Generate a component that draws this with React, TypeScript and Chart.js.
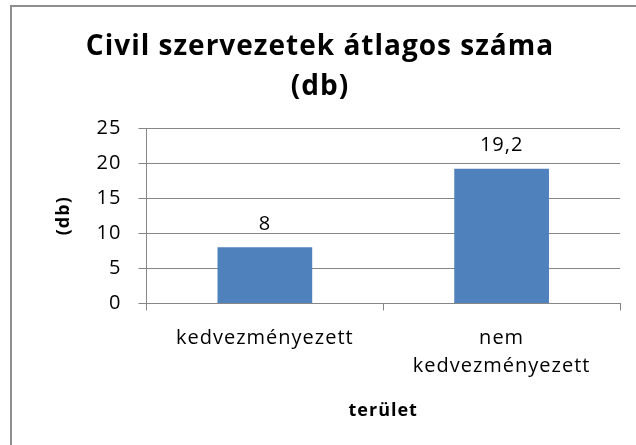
import React, { useEffect, useRef } from "react";
import { Chart, registerables } from "chart.js";

Chart.register(...registerables);

const categories: (string | string[])[] = ["kedvezményezett", ["nem", "kedvezményezett"]];
const values = [8, 19.2];
const yMin = 0;
const yMax = 25;
const yStep = 5;
const titleLines = ["Civil szervezetek átlagos száma", "(db)"];
const xTitle = "terület";
const yTitle = "(db)";

const FONT = '"Open Sans", "DejaVu Sans", sans-serif';
const GRID = "#868686";
const BAR = "#4F81BD";
const SPACING = "1px";

const letterSpacingPlugin = {
  id: "letterSpacingPlugin",
  beforeUpdate(chart: any) {
    chart.ctx.letterSpacing = SPACING;
  },
  beforeDraw(chart: any) {
    chart.ctx.letterSpacing = SPACING;
  },
};

const valueLabels = {
  id: "valueLabels",
  afterDatasetsDraw(chart: any) {
    const { ctx } = chart;
    const meta = chart.getDatasetMeta(0);
    ctx.save();
    ctx.font = `20px ${FONT}`;
    ctx.fillStyle = "#000";
    ctx.textAlign = "center";
    ctx.textBaseline = "middle";
    meta.data.forEach((bar: any, i: number) => {
      const text = String(values[i]).replace(".", ",");
      ctx.fillText(text, bar.x, bar.y - 23);
    });
    ctx.restore();
  },
};

export default function App() {
  const ref = useRef<HTMLCanvasElement | null>(null);

  useEffect(() => {
    if (!ref.current) return;
    const chart = new Chart(ref.current, {
      type: "bar",
      data: {
        labels: categories as any,
        datasets: [
          {
            data: values,
            backgroundColor: BAR,
            borderWidth: 0,
            barPercentage: 0.4,
            categoryPercentage: 1,
          },
        ],
      },
      plugins: [letterSpacingPlugin, valueLabels],
      options: {
        animation: false,
        responsive: true,
        maintainAspectRatio: false,
        layout: { padding: { left: 20, right: 16, top: 0, bottom: 2 } },
        plugins: {
          legend: { display: false },
          tooltip: { enabled: false },
          title: {
            display: true,
            text: titleLines,
            color: "#000",
            font: { family: FONT, size: 28, weight: "bold", lineHeight: 1.43 },
            padding: { top: 27, bottom: 21 },
          },
        },
        scales: {
          x: {
            grid: {
              display: true,
              drawOnChartArea: false,
              drawTicks: true,
              tickLength: 7,
              color: GRID,
            },
            border: { display: true, color: GRID, width: 1 },
            ticks: {
              color: "#000",
              font: { family: FONT, size: 20, lineHeight: 1.4 },
              padding: 14,
              maxRotation: 0,
              autoSkip: false,
            },
            title: {
              display: true,
              text: xTitle,
              color: "#000",
              font: { family: FONT, size: 18, weight: "bold", lineHeight: 1.2 },
              padding: { top: 6, bottom: 21 },
            },
          },
          y: {
            min: yMin,
            max: yMax,
            grid: {
              color: GRID,
              tickLength: 8,
              drawTicks: true,
            },
            border: { display: true, color: GRID, width: 1 },
            ticks: {
              stepSize: yStep,
              color: "#000",
              font: { family: FONT, size: 20 },
              padding: 17,
            },
            title: {
              display: true,
              text: yTitle,
              color: "#000",
              font: { family: FONT, size: 18, weight: "bold", lineHeight: 1.2 },
              padding: { top: 33, bottom: 5 },
            },
          },
        },
      },
    });
    return () => chart.destroy();
  }, []);

  return (
    <div
      style={{
        position: "fixed",
        left: 0,
        top: 0,
        width: 636,
        height: 445,
        background: "#fff",
        overflow: "hidden",
      }}
    >
      <div
        style={{
          position: "absolute",
          left: 10,
          top: 5,
          width: 700,
          height: 500,
          borderTop: "2px solid #8e8e8e",
          borderLeft: "2px solid #8e8e8e",
        }}
      />
      <canvas
        ref={ref}
        style={{ position: "absolute", left: 0, top: 0, width: 636, height: 445 }}
      />
    </div>
  );
}
